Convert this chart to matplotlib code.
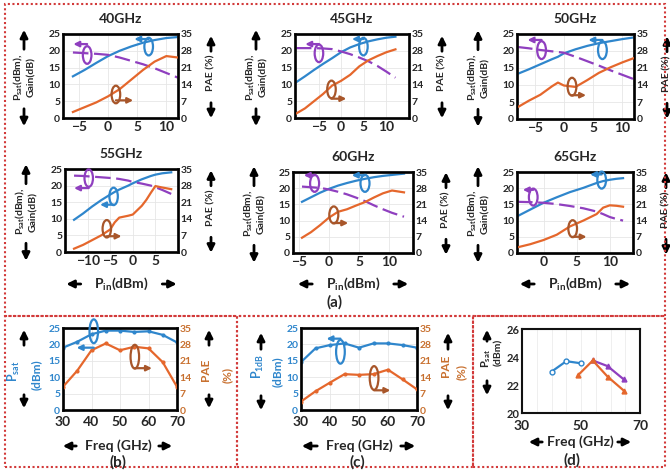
import matplotlib
matplotlib.use("Agg")
import matplotlib.pyplot as plt
from matplotlib.patches import Ellipse, FancyArrowPatch, Rectangle

plt.rcParams["font.family"] = ["Lato", "DejaVu Sans"]
plt.rcParams["font.weight"] = "bold"
plt.rcParams["mathtext.fontset"] = "custom"
plt.rcParams["mathtext.rm"] = "Lato:bold"
plt.rcParams["mathtext.bf"] = "Lato:bold"
plt.rcParams["mathtext.it"] = "Lato:bold"

W, H = 670, 473

BLUE = "#2f86cc"
ORANGE = "#e5672c"
PURPLE = "#8f3fbf"
BROWN = "#a8562a"
PAE_TXT = "#c8702f"
TXT = "#262626"
RED = "#d23a3a"

# ---- (a) large-signal sweeps vs Pin ----
pin_40 = [-6, -4, -2, 0, 2, 4, 6, 8, 10, 12]
pout_40 = [12.4, 14.3, 16.4, 18.4, 20.0, 21.3, 22.4, 23.2, 23.8, 24.1]
gain_40 = [19.5, 19.3, 19.1, 18.8, 18.0, 17.0, 16.0, 14.8, 13.4, 12.0]
pae_40 = [2.5, 4.5, 6.5, 9.0, 12.0, 16.0, 20.0, 23.5, 25.8, 25.2]

pin_45 = [-10, -8, -6, -4, -2, 0, 2, 4, 6, 8, 10, 12]
pout_45 = [10.6, 12.4, 14.3, 16.1, 17.8, 19.6, 21.0, 22.0, 22.8, 23.4, 23.9, 24.2]
gain_45 = [20.8, 20.8, 20.8, 20.7, 20.5, 19.8, 19.0, 18.0, 16.9, 15.5, 13.8, 12.0]
pae_45 = [1.8, 4.0, 7.0, 10.0, 13.5, 15.5, 18.0, 21.5, 24.0, 25.8, 27.4, 28.6]

pin_50 = [-8, -6, -4, -2, -1, 0, 2, 4, 6, 8, 10, 12]
pout_50 = [13.2, 14.6, 16.1, 17.6, 18.3, 19.3, 20.5, 21.5, 22.3, 22.9, 23.5, 24.0]
gain_50 = [21.2, 20.8, 20.3, 19.9, 19.7, 19.5, 18.3, 17.0, 15.7, 14.3, 13.0, 11.7]
pae_50 = [4.7, 7.5, 10.0, 13.5, 15.0, 13.8, 13.2, 16.0, 19.0, 21.3, 23.3, 25.1]

pin_55 = [-13, -11, -9, -7, -5, -4, -3, -1, 0, 2, 3, 4, 5, 6.5, 8.5]
pout_55 = [9.7, 11.6, 13.7, 15.6, 17.3, 18.1, 18.8, 20.0, 20.7, 21.9, 22.4, 22.9, 23.3, 23.7, 24.0]
gain_55 = [23.0, 22.9, 22.7, 22.5, 22.3, 22.2, 22.0, 21.5, 21.1, 20.6, 20.3, 20.0, 19.5, 18.7, 17.5]
pae_55 = [1.4, 3.0, 5.0, 7.0, 9.5, 12.5, 14.5, 15.3, 15.8, 19.5, 22.0, 25.0, 27.8, 27.2, 26.5]

pin_60 = [-4.5, -3, -1.5, 0, 1.5, 3, 4.5, 6, 7.5, 9, 10.5, 12.5]
pout_60 = [15.8, 17.2, 18.6, 19.8, 20.8, 21.6, 22.3, 22.9, 23.4, 23.8, 24.1, 24.5]
gain_60 = [20.5, 20.3, 20.1, 19.6, 18.9, 18.1, 17.1, 16.0, 14.7, 13.5, 12.4, 11.2]
pae_60 = [6.6, 9.0, 12.0, 15.3, 17.8, 18.9, 20.5, 22.0, 24.0, 25.8, 27.0, 26.2]

pin_65 = [-4, -2, 0, 2, 4, 6, 8, 9, 10, 11, 12]
pout_65 = [11.3, 13.4, 15.5, 17.2, 18.8, 20.1, 21.6, 22.2, 22.6, 22.9, 23.1]
gain_65 = [15.8, 15.7, 15.5, 15.1, 14.5, 13.8, 12.8, 12.0, 11.1, 10.5, 10.0]
pae_65 = [2.4, 3.8, 5.6, 7.9, 11.5, 14.0, 16.8, 19.6, 20.6, 20.4, 20.0]

# ---- (b), (c) vs frequency ----
freq = [30, 35, 40, 45, 50, 55, 60, 65, 70]
psat_b = [19.0, 20.8, 23.1, 24.2, 24.2, 23.8, 24.0, 22.9, 20.6]
pae_b = [9.9, 16.8, 25.5, 28.4, 25.5, 27.0, 26.3, 20.4, 9.9]
p1db_c = [14.6, 18.8, 19.8, 20.3, 19.0, 20.3, 20.3, 19.8, 19.0]
pae_c = [3.6, 8.0, 11.7, 15.3, 15.0, 15.3, 17.2, 13.1, 8.8]

# ---- (d) comparison ----
freq_d1 = [40, 45, 50]
psat_d1 = [22.95, 23.7, 23.55]
freq_d2 = [49, 54, 59, 64.5]
psat_d2 = [22.7, 23.75, 22.6, 21.6]
freq_d3 = [54, 59, 64.5]
psat_d3 = [23.75, 23.35, 22.4]


def rect(l, t, r, b):
    return [l / W, 1 - b / H, (r - l) / W, (b - t) / H]


def ftext(x, y, s, **kw):
    kw.setdefault("color", TXT)
    kw.setdefault("fontweight", "bold")
    fig.text(x / W, 1 - y / H, s, ha="center", va="center", **kw)


def farrow(x0, y0, x1, y1):
    fig.add_artist(FancyArrowPatch((x0 / W, 1 - y0 / H), (x1 / W, 1 - y1 / H),
                                   transform=fig.transFigure, arrowstyle="-|>",
                                   mutation_scale=11, lw=2.0, color="k"))


def loop(ax, cx, cy, ay, aend, color, h=0.21):
    ax.add_patch(Ellipse((cx, cy), 0.075, h, transform=ax.transAxes, fill=False,
                         ec=color, lw=1.6, zorder=6, clip_on=False))
    ax.annotate("", xy=(aend, ay), xytext=(cx, ay), xycoords="axes fraction",
                arrowprops=dict(arrowstyle="-|>", color=color, lw=1.6,
                                mutation_scale=8, shrinkA=0, shrinkB=0), zorder=6)


def style(ax, ax2, xticks, xfs=10, lcol=TXT, rcol=TXT, xpad=2):
    for s in ax.spines.values():
        s.set_linewidth(2)
        s.set_color("#111111")
    ax.set_ylim(0, 25)
    ax.set_yticks(range(0, 26, 5))
    ax2.set_ylim(0, 35)
    ax2.set_yticks(range(0, 36, 7))
    ax.set_xticks(xticks)
    ax.grid(color="#e6e6e6", lw=0.6)
    ax.tick_params(axis="y", length=0, pad=2)
    ax.tick_params(axis="x", length=0, pad=xpad)
    ax2.tick_params(length=0, pad=2)
    for lb in ax.get_xticklabels():
        lb.set_fontsize(xfs)
        lb.set_color(TXT)
    for lb in ax.get_yticklabels():
        lb.set_fontsize(7.5)
        lb.set_color(lcol)
    for lb in ax2.get_yticklabels():
        lb.set_fontsize(7.5)
        lb.set_color(rcol)


fig = plt.figure(figsize=(6.7, 4.73), dpi=100)

panels = [
    ("40GHz", (63, 34, 178, 118), (-7.7, 12), [-5, 0, 5, 10], pin_40, pout_40, gain_40, pae_40,
     [(0.21, 0.75, 0.88, 0.09), (0.745, 0.85, 0.94, 0.62), (0.46, 0.28, 0.21, 0.61)]),
    ("45GHz", (295, 34, 409, 118), (-10.2, 15), [-5, 0, 5, 10], pin_45, pout_45, gain_45, pae_45,
     [(0.21, 0.77, 0.88, 0.09), (0.60, 0.85, 0.94, 0.50), (0.32, 0.34, 0.23, 0.45)]),
    ("50GHz", (517, 34, 634, 119), (-8, 12), [-5, 0, 5, 10], pin_50, pout_50, gain_50, pae_50,
     [(0.21, 0.81, 0.93, 0.09), (0.73, 0.81, 0.93, 0.61), (0.47, 0.38, 0.28, 0.59)]),
    ("55GHz", (65, 169, 178, 252), (-15, 10), [-10, -5, 0, 5], pin_55, pout_55, gain_55, pae_55,
     [(0.21, 0.89, 0.77, 0.08), (0.43, 0.67, 0.57, 0.31), (0.37, 0.28, 0.19, 0.50)]),
    ("60GHz", (293, 172, 413, 253), (-6, 14), [-5, 0, 5, 10], pin_60, pout_60, gain_60, pae_60,
     [(0.18, 0.86, 0.96, 0.09), (0.60, 0.86, 0.96, 0.49), (0.34, 0.47, 0.37, 0.46)]),
    ("65GHz", (517, 172, 633, 253), (-4, 13.5), [0, 5, 10], pin_65, pout_65, gain_65, pae_65,
     [(0.14, 0.69, 0.78, 0.05), (0.73, 0.90, 0.97, 0.63), (0.48, 0.30, 0.20, 0.60)]),
]

for i, (title, box, xlim, xt, x, pout, gain, pae, loops) in enumerate(panels):
    l, t, r, b = box
    ax = fig.add_axes(rect(*box))
    ax2 = ax.twinx()
    ax.plot(x, pout, color=BLUE, lw=1.6)
    ax.plot(x, gain, color=PURPLE, lw=1.6, dashes=(7, 2.5))
    ax2.plot(x, pae, color=ORANGE, lw=1.6)
    ax.set_xlim(*xlim)
    style(ax, ax2, xt)
    for (cx, cy, ay, aend), c in zip(loops, [PURPLE, BLUE, BROWN]):
        loop(ax2, cx, cy, ay, aend, c)

    cx_ = (l + r) / 2
    cy_ = (t + b) / 2
    ftext(cx_, t - 15, title, fontsize=10)
    ftext(l - 45, cy_ + 1, r"$\mathbf{P_{sat}}$(dBm),", rotation=90, fontsize=7.5)
    ftext(l - 31, cy_ + 1, "Gain(dB)", rotation=90, fontsize=7.5)
    farrow(l - 39, cy_ - 24, l - 39, cy_ - 49)
    farrow(l - 39, cy_ + 30, l - 39, cy_ + 53)
    ftext(r + 33, cy_ - 3, "PAE (%)", rotation=90, fontsize=7.5)
    farrow(r + 33, cy_ - 22, r + 33, cy_ - 43)
    farrow(r + 33, cy_ + 24, r + 33, cy_ + 45)
    if i >= 3:
        ftext(cx_, 284, r"$\mathbf{P_{in}}$(dBm)", fontsize=10)
        farrow(cx_ - 38, 284, cx_ - 58, 284)
        farrow(cx_ + 38, 284, cx_ + 58, 284)

ftext(335, 302, "(a)", fontsize=11)

# ---- (b) ----
box_b = (63, 328, 177, 410)
ax = fig.add_axes(rect(*box_b))
ax2 = ax.twinx()
ax.plot(freq, psat_b, color=BLUE, lw=1.6, marker="o", ms=2)
ax2.plot(freq, pae_b, color=ORANGE, lw=1.6, marker="o", ms=2)
ax.set_xlim(30, 70)
style(ax, ax2, [30, 40, 50, 60, 70], lcol=BLUE, rcol=PAE_TXT, xpad=4)
loop(ax2, 0.27, 0.96, 0.76, 0.12, BLUE, h=0.29)
loop(ax2, 0.63, 0.65, 0.51, 0.78, BROWN, h=0.29)
ftext(14, 371, r"$\mathbf{P_{sat}}$", rotation=90, fontsize=9, color=BLUE)
ftext(36, 375, "(dBm)", rotation=90, fontsize=8.5, color=BLUE)
farrow(24, 348, 24, 327)
farrow(24, 392, 24, 411)
ftext(205, 370, "PAE", rotation=90, fontsize=8.5, color=PAE_TXT)
ftext(227, 375, "(%)", rotation=90, fontsize=8.5, color=PAE_TXT)
farrow(209, 348, 209, 327)
farrow(209, 392, 209, 411)
ftext(118, 446, "Freq (GHz)", fontsize=10)
farrow(79, 446, 60, 446)
farrow(156, 446, 175, 446)
ftext(118, 462, "(b)", fontsize=11)

# ---- (c) ----
box_c = (301, 328, 417, 410)
ax = fig.add_axes(rect(*box_c))
ax2 = ax.twinx()
ax.plot(freq, p1db_c, color=BLUE, lw=1.6, marker="o", ms=2)
ax2.plot(freq, pae_c, color=ORANGE, lw=1.6, marker="o", ms=2)
ax.set_xlim(30, 70)
style(ax, ax2, [30, 40, 50, 60, 70], lcol=BLUE, rcol=PAE_TXT, xpad=4)
loop(ax2, 0.34, 0.71, 0.87, 0.22, BLUE, h=0.29)
loop(ax2, 0.63, 0.39, 0.24, 0.77, BROWN, h=0.29)
ftext(258, 366, r"$\mathbf{P_{1dB}}$", rotation=90, fontsize=9, color=BLUE)
ftext(277, 372, "(dBm)", rotation=90, fontsize=8.5, color=BLUE)
farrow(261, 352, 261, 330)
farrow(261, 393, 261, 413)
ftext(446, 366, "PAE", rotation=90, fontsize=8.5, color=PAE_TXT)
ftext(461, 372, "(%)", rotation=90, fontsize=8.5, color=PAE_TXT)
farrow(448, 352, 448, 330)
farrow(448, 393, 448, 413)
ftext(359, 446, "Freq (GHz)", fontsize=10)
farrow(320, 446, 299, 446)
farrow(398, 446, 418, 446)
ftext(357, 462, "(c)", fontsize=11)

# ---- (d) ----
box_d = (522, 329, 640, 413)
ax = fig.add_axes(rect(*box_d))
ax.plot(freq_d1, psat_d1, color=BLUE, lw=1.6, marker="o", ms=3.5, mfc="white")
ax.plot(freq_d3, psat_d3, color=PURPLE, lw=1.6, marker="^", ms=3.5)
ax.plot(freq_d2, psat_d2, color=ORANGE, lw=1.6, marker="^", ms=3.5)
ax.set_xlim(30, 70)
ax.set_ylim(20, 26)
ax.set_xticks([30, 50, 70])
ax.set_yticks([20, 22, 24, 26])
ax.set_xticks(range(30, 71, 5), minor=True)
ax.grid(which="both", axis="x", color="#ececec", lw=0.6)
for s in ax.spines.values():
    s.set_linewidth(1.5)
    s.set_color("#111111")
ax.tick_params(axis="y", length=0, pad=2)
ax.tick_params(axis="x", length=0, pad=5)
ax.tick_params(which="minor", length=0)
for lb in ax.get_xticklabels():
    lb.set_fontsize(10)
    lb.set_color(TXT)
for lb in ax.get_yticklabels():
    lb.set_fontsize(8)
    lb.set_color(TXT)
ftext(486, 358, r"$\mathbf{P_{sat}}$", rotation=90, fontsize=8)
ftext(499, 352, "(dBm)", rotation=90, fontsize=7.5)
farrow(487, 344, 487, 327)
farrow(487, 378, 487, 398)
ftext(580, 442, "Freq (GHz)", fontsize=10)
farrow(545, 442, 526, 442)
farrow(615, 442, 634, 442)
ftext(572, 460, "(d)", fontsize=11)

# ---- dotted frames ----
for (l, t, r, b) in [(5, 4, 665, 316), (5, 316, 237, 467), (237, 316, 473, 467), (473, 316, 665, 467)]:
    fig.add_artist(Rectangle((l / W, 1 - b / H), (r - l) / W, (b - t) / H,
                             transform=fig.transFigure, fill=False, ec=RED,
                             lw=1.5, ls=(0, (1, 1.2))))

fig.savefig("out.png", dpi=100)
